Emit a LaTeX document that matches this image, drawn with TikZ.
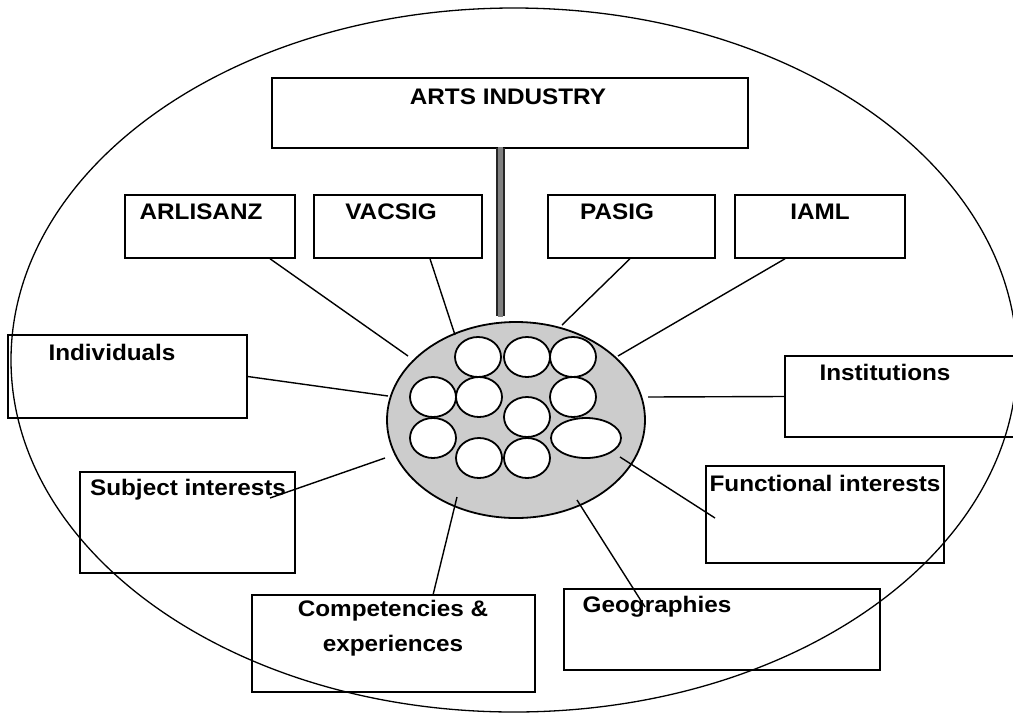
\documentclass[tikz,border=0pt]{standalone}
\usepackage{fontspec}
\setmainfont{Liberation Sans}[FakeStretch=1.08]
\usetikzlibrary{shapes.geometric,calc}
\begin{document}
\begin{tikzpicture}[x=1pt,y=-1pt,
  box/.style={draw, line width=1.5pt, inner sep=0pt},
  lbl/.style={font=\fontsize{22.5}{34}\selectfont\bfseries, inner sep=0pt, anchor=base},
  link/.style={line width=1.4pt},
  cell/.style={line width=1.8pt, fill=white}
]
\useasboundingbox (0,0) rectangle (1013,716);
% outer ellipse
\draw[line width=1.3pt] (514,360) ellipse [x radius=503, y radius=352];

% boxes
\node[box, minimum width=476, minimum height=70] (arts) at (510,113) {};
\node[box, minimum width=170, minimum height=63] (arl) at (210,226.5) {};
\node[box, minimum width=168, minimum height=63] (vac) at (398,226.5) {};
\node[box, minimum width=167, minimum height=63] (pas) at (631.5,226.5) {};
\node[box, minimum width=170, minimum height=63] (iaml) at (820,226.5) {};
\node[box, minimum width=239, minimum height=83] (ind) at (127.5,376.5) {};
\node[box, minimum width=232, minimum height=81] (inst) at (901,396.5) {};
\node[box, minimum width=215, minimum height=101] (subj) at (187.5,522.5) {};
\node[box, minimum width=238, minimum height=97] (func) at (825,514.5) {};
\node[box, minimum width=283, minimum height=97] (comp) at (393.5,643.5) {};
\node[box, minimum width=316, minimum height=81] (geo) at (722,629.5) {};

% labels
\node[lbl] (tarts) at (508,104) {ARTS INDUSTRY};
\node[lbl] (tarl) at (201,219) {ARLISANZ};
\node[lbl] (tvac) at (391,219) {VACSIG};
\node[lbl] (tpas) at (617,219) {PASIG};
\node[lbl] (tiaml) at (820,219) {IAML};
\node[lbl] (tind) at (112,360) {Individuals};
\node[lbl] (tinst) at (885,380) {Institutions};
\node[lbl] (tsubj) at (188,495) {Subject interests};
\node[lbl] (tfunc) at (825,491) {Functional interests};
\node[lbl] (tcomp1) at (393,616) {Competencies \&};
\node[lbl] (tcomp2) at (393,651) {experiences};
\node[lbl] (tgeo) at (657,612) {Geographies};

% hub
\node[ellipse, draw, fill=black!20, line width=1.8pt, minimum width=258, minimum height=196, inner sep=0pt] (hub) at (516,420) {};

% bar from arts industry
\coordinate (bartop) at (500,148);
\coordinate (barend) at (500,316);
\draw[line width=9pt, black!85] (bartop) -- (barend);
\draw[line width=5pt, black!50] ([yshift=1pt]bartop) -- ([yshift=-1pt]barend);

% connector end points
\coordinate (e-arl) at (408,356);
\coordinate (e-vac) at (455,335);
\coordinate (e-pas) at (562,325);
\coordinate (e-iaml) at (618,356);
\coordinate (e-ind) at (388,396);
\coordinate (e-inst) at (648,397);
\coordinate (e-subj) at (385,458);
\coordinate (e-func) at (620,457);
\coordinate (e-comp) at (457,497);
\coordinate (e-geo) at (577,500);
\coordinate (s-subj) at (270,498);
\coordinate (s-func) at (715,518);
\coordinate (s-comp) at (433,595);
\coordinate (s-geo) at (645,607);

\draw[link] ([xshift=60pt]arl.south) -- (e-arl);
\draw[link] ([xshift=32pt]vac.south) -- (e-vac);
\draw[link] ([xshift=-1.5pt]pas.south) -- (e-pas);
\draw[link] ([xshift=-35pt]iaml.south) -- (e-iaml);
\draw[link] (ind.east) -- (e-ind);
\draw[link] (inst.west) -- (e-inst);
\draw[link] (s-subj) -- (e-subj);
\draw[link] (s-func) -- (e-func);
\draw[link] (s-comp) -- (e-comp);
\draw[link] (s-geo) -- (e-geo);

% cells inside hub
\foreach \x/\y in {478/357, 527/357, 573/357, 433/397, 479/397, 573/397, 527/417, 433/438, 479/458, 527/458}
  \draw[cell] (\x,\y) ellipse [x radius=23, y radius=20];
\draw[cell] (586,438) ellipse [x radius=35, y radius=20];
\end{tikzpicture}
\end{document}
